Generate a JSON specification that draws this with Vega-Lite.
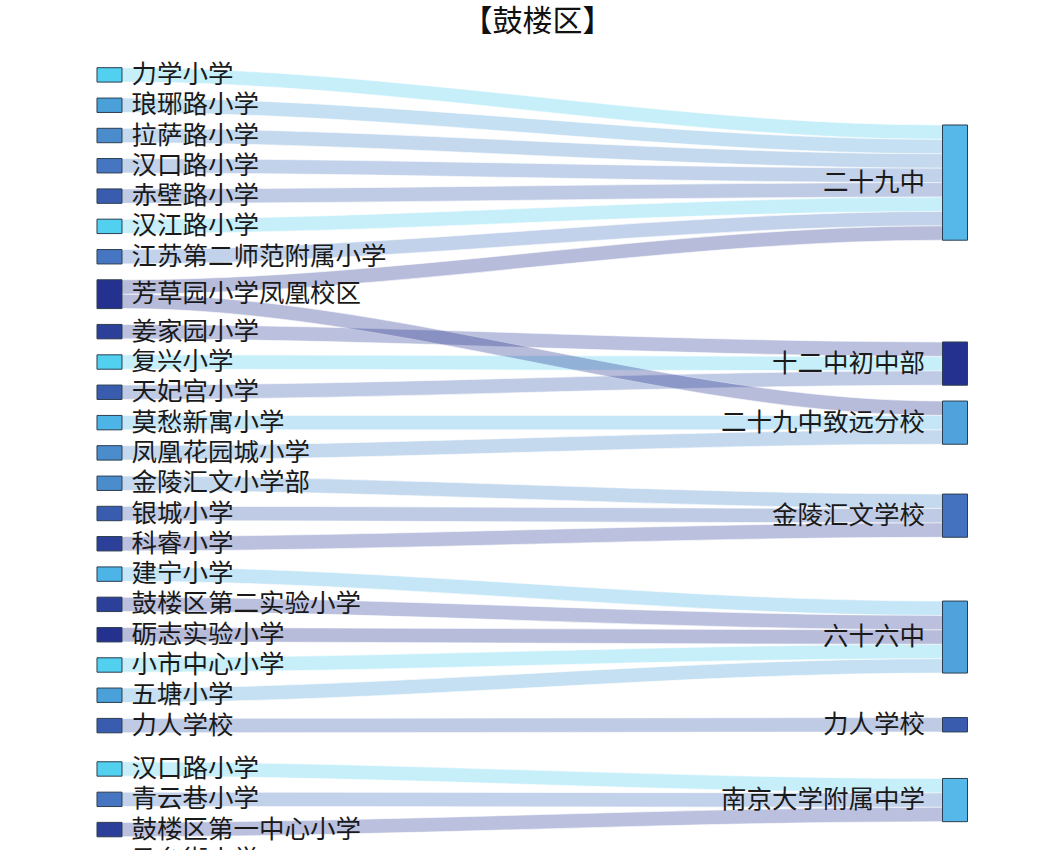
{
  "$schema": "https://vega.github.io/schema/vega-lite/v6.json",
  "width": 1047,
  "height": 810,
  "autosize": {"type": "none"},
  "padding": {"top": 40, "left": 0, "right": 0, "bottom": 0},
  "background": "white",
  "title": {"text": "【鼓楼区】", "font": "Noto Sans CJK SC", "fontSize": 30, "fontWeight": "normal", "color": "#111111", "anchor": "middle", "offset": 3, "dx": 14},
  "config": {"view": {"stroke": null}},
  "datasets": {
    "nodes": [
      {"id": "L1", "name": "力学小学", "col": 0, "y0": 4.70, "y1": 5.70, "yc": 5.20},
      {"id": "L2", "name": "琅琊路小学", "col": 0, "y0": 6.81, "y1": 7.81, "yc": 7.31},
      {"id": "L3", "name": "拉萨路小学", "col": 0, "y0": 8.91, "y1": 9.91, "yc": 9.41},
      {"id": "L4", "name": "汉口路小学", "col": 0, "y0": 11.01, "y1": 12.01, "yc": 11.51},
      {"id": "L5", "name": "赤壁路小学", "col": 0, "y0": 13.12, "y1": 14.12, "yc": 13.62},
      {"id": "L6", "name": "汉江路小学", "col": 0, "y0": 15.22, "y1": 16.22, "yc": 15.72},
      {"id": "L7", "name": "江苏第二师范附属小学", "col": 0, "y0": 17.33, "y1": 18.33, "yc": 17.83},
      {"id": "L8", "name": "芳草园小学凤凰校区", "col": 0, "y0": 19.43, "y1": 21.43, "yc": 20.43},
      {"id": "L9", "name": "姜家园小学", "col": 0, "y0": 22.53, "y1": 23.53, "yc": 23.03},
      {"id": "L10", "name": "复兴小学", "col": 0, "y0": 24.64, "y1": 25.64, "yc": 25.14},
      {"id": "L11", "name": "天妃宫小学", "col": 0, "y0": 26.74, "y1": 27.74, "yc": 27.24},
      {"id": "L12", "name": "莫愁新寓小学", "col": 0, "y0": 28.85, "y1": 29.85, "yc": 29.35},
      {"id": "L13", "name": "凤凰花园城小学", "col": 0, "y0": 30.95, "y1": 31.95, "yc": 31.45},
      {"id": "L14", "name": "金陵汇文小学部", "col": 0, "y0": 33.06, "y1": 34.06, "yc": 33.56},
      {"id": "L15", "name": "银城小学", "col": 0, "y0": 35.16, "y1": 36.16, "yc": 35.66},
      {"id": "L16", "name": "科睿小学", "col": 0, "y0": 37.26, "y1": 38.26, "yc": 37.76},
      {"id": "L17", "name": "建宁小学", "col": 0, "y0": 39.37, "y1": 40.37, "yc": 39.87},
      {"id": "L18", "name": "鼓楼区第二实验小学", "col": 0, "y0": 41.47, "y1": 42.47, "yc": 41.97},
      {"id": "L19", "name": "砺志实验小学", "col": 0, "y0": 43.58, "y1": 44.58, "yc": 44.08},
      {"id": "L20", "name": "小市中心小学", "col": 0, "y0": 45.68, "y1": 46.68, "yc": 46.18},
      {"id": "L21", "name": "五塘小学", "col": 0, "y0": 47.78, "y1": 48.78, "yc": 48.28},
      {"id": "L22", "name": "力人学校", "col": 0, "y0": 49.89, "y1": 50.89, "yc": 50.39},
      {"id": "L23", "name": "汉口路小学", "col": 0, "y0": 52.90, "y1": 53.90, "yc": 53.40},
      {"id": "L24", "name": "青云巷小学", "col": 0, "y0": 55.01, "y1": 56.01, "yc": 55.51},
      {"id": "L25", "name": "鼓楼区第一中心小学", "col": 0, "y0": 57.11, "y1": 58.11, "yc": 57.61},
      {"id": "L26", "name": "马台街小学", "col": 0, "y0": 59.22, "y1": 60.22, "yc": 59.72},
      {"id": "R1", "name": "二十九中", "col": 1, "y0": 8.68, "y1": 16.68, "yc": 12.68},
      {"id": "R2", "name": "十二中初中部", "col": 1, "y0": 23.75, "y1": 26.75, "yc": 25.25},
      {"id": "R3", "name": "二十九中致远分校", "col": 1, "y0": 27.85, "y1": 30.85, "yc": 29.35},
      {"id": "R4", "name": "金陵汇文学校", "col": 1, "y0": 34.31, "y1": 37.31, "yc": 35.81},
      {"id": "R5", "name": "六十六中", "col": 1, "y0": 41.74, "y1": 46.74, "yc": 44.24},
      {"id": "R6", "name": "力人学校", "col": 1, "y0": 49.83, "y1": 50.83, "yc": 50.33},
      {"id": "R7", "name": "南京大学附属中学", "col": 1, "y0": 54.06, "y1": 57.06, "yc": 55.56}
    ],
    "links": [
      {"link": "k1", "source": "L1", "t": 0, "top": 4.70, "bottom": 5.70},
      {"link": "k1", "source": "L1", "t": 0.015, "top": 4.70, "bottom": 5.70},
      {"link": "k1", "source": "L1", "t": 0.985, "top": 8.68, "bottom": 9.68},
      {"link": "k1", "source": "L1", "t": 1, "top": 8.68, "bottom": 9.68},
      {"link": "k2", "source": "L2", "t": 0, "top": 6.81, "bottom": 7.81},
      {"link": "k2", "source": "L2", "t": 0.015, "top": 6.81, "bottom": 7.81},
      {"link": "k2", "source": "L2", "t": 0.985, "top": 9.68, "bottom": 10.68},
      {"link": "k2", "source": "L2", "t": 1, "top": 9.68, "bottom": 10.68},
      {"link": "k3", "source": "L3", "t": 0, "top": 8.91, "bottom": 9.91},
      {"link": "k3", "source": "L3", "t": 0.015, "top": 8.91, "bottom": 9.91},
      {"link": "k3", "source": "L3", "t": 0.985, "top": 10.68, "bottom": 11.68},
      {"link": "k3", "source": "L3", "t": 1, "top": 10.68, "bottom": 11.68},
      {"link": "k4", "source": "L4", "t": 0, "top": 11.01, "bottom": 12.01},
      {"link": "k4", "source": "L4", "t": 0.015, "top": 11.01, "bottom": 12.01},
      {"link": "k4", "source": "L4", "t": 0.985, "top": 11.68, "bottom": 12.68},
      {"link": "k4", "source": "L4", "t": 1, "top": 11.68, "bottom": 12.68},
      {"link": "k5", "source": "L5", "t": 0, "top": 13.12, "bottom": 14.12},
      {"link": "k5", "source": "L5", "t": 0.015, "top": 13.12, "bottom": 14.12},
      {"link": "k5", "source": "L5", "t": 0.985, "top": 12.68, "bottom": 13.68},
      {"link": "k5", "source": "L5", "t": 1, "top": 12.68, "bottom": 13.68},
      {"link": "k6", "source": "L6", "t": 0, "top": 15.22, "bottom": 16.22},
      {"link": "k6", "source": "L6", "t": 0.015, "top": 15.22, "bottom": 16.22},
      {"link": "k6", "source": "L6", "t": 0.985, "top": 13.68, "bottom": 14.68},
      {"link": "k6", "source": "L6", "t": 1, "top": 13.68, "bottom": 14.68},
      {"link": "k7", "source": "L7", "t": 0, "top": 17.33, "bottom": 18.33},
      {"link": "k7", "source": "L7", "t": 0.015, "top": 17.33, "bottom": 18.33},
      {"link": "k7", "source": "L7", "t": 0.985, "top": 14.68, "bottom": 15.68},
      {"link": "k7", "source": "L7", "t": 1, "top": 14.68, "bottom": 15.68},
      {"link": "k8", "source": "L8", "t": 0, "top": 19.43, "bottom": 20.43},
      {"link": "k8", "source": "L8", "t": 0.015, "top": 19.43, "bottom": 20.43},
      {"link": "k8", "source": "L8", "t": 0.985, "top": 15.68, "bottom": 16.68},
      {"link": "k8", "source": "L8", "t": 1, "top": 15.68, "bottom": 16.68},
      {"link": "k9", "source": "L9", "t": 0, "top": 22.53, "bottom": 23.53},
      {"link": "k9", "source": "L9", "t": 0.015, "top": 22.53, "bottom": 23.53},
      {"link": "k9", "source": "L9", "t": 0.985, "top": 23.75, "bottom": 24.75},
      {"link": "k9", "source": "L9", "t": 1, "top": 23.75, "bottom": 24.75},
      {"link": "k10", "source": "L10", "t": 0, "top": 24.64, "bottom": 25.64},
      {"link": "k10", "source": "L10", "t": 0.015, "top": 24.64, "bottom": 25.64},
      {"link": "k10", "source": "L10", "t": 0.985, "top": 24.75, "bottom": 25.75},
      {"link": "k10", "source": "L10", "t": 1, "top": 24.75, "bottom": 25.75},
      {"link": "k11", "source": "L11", "t": 0, "top": 26.74, "bottom": 27.74},
      {"link": "k11", "source": "L11", "t": 0.015, "top": 26.74, "bottom": 27.74},
      {"link": "k11", "source": "L11", "t": 0.985, "top": 25.75, "bottom": 26.75},
      {"link": "k11", "source": "L11", "t": 1, "top": 25.75, "bottom": 26.75},
      {"link": "k12", "source": "L8", "t": 0, "top": 20.43, "bottom": 21.43},
      {"link": "k12", "source": "L8", "t": 0.015, "top": 20.43, "bottom": 21.43},
      {"link": "k12", "source": "L8", "t": 0.985, "top": 27.85, "bottom": 28.85},
      {"link": "k12", "source": "L8", "t": 1, "top": 27.85, "bottom": 28.85},
      {"link": "k13", "source": "L12", "t": 0, "top": 28.85, "bottom": 29.85},
      {"link": "k13", "source": "L12", "t": 0.015, "top": 28.85, "bottom": 29.85},
      {"link": "k13", "source": "L12", "t": 0.985, "top": 28.85, "bottom": 29.85},
      {"link": "k13", "source": "L12", "t": 1, "top": 28.85, "bottom": 29.85},
      {"link": "k14", "source": "L13", "t": 0, "top": 30.95, "bottom": 31.95},
      {"link": "k14", "source": "L13", "t": 0.015, "top": 30.95, "bottom": 31.95},
      {"link": "k14", "source": "L13", "t": 0.985, "top": 29.85, "bottom": 30.85},
      {"link": "k14", "source": "L13", "t": 1, "top": 29.85, "bottom": 30.85},
      {"link": "k15", "source": "L14", "t": 0, "top": 33.06, "bottom": 34.06},
      {"link": "k15", "source": "L14", "t": 0.015, "top": 33.06, "bottom": 34.06},
      {"link": "k15", "source": "L14", "t": 0.985, "top": 34.31, "bottom": 35.31},
      {"link": "k15", "source": "L14", "t": 1, "top": 34.31, "bottom": 35.31},
      {"link": "k16", "source": "L15", "t": 0, "top": 35.16, "bottom": 36.16},
      {"link": "k16", "source": "L15", "t": 0.015, "top": 35.16, "bottom": 36.16},
      {"link": "k16", "source": "L15", "t": 0.985, "top": 35.31, "bottom": 36.31},
      {"link": "k16", "source": "L15", "t": 1, "top": 35.31, "bottom": 36.31},
      {"link": "k17", "source": "L16", "t": 0, "top": 37.26, "bottom": 38.26},
      {"link": "k17", "source": "L16", "t": 0.015, "top": 37.26, "bottom": 38.26},
      {"link": "k17", "source": "L16", "t": 0.985, "top": 36.31, "bottom": 37.31},
      {"link": "k17", "source": "L16", "t": 1, "top": 36.31, "bottom": 37.31},
      {"link": "k18", "source": "L17", "t": 0, "top": 39.37, "bottom": 40.37},
      {"link": "k18", "source": "L17", "t": 0.015, "top": 39.37, "bottom": 40.37},
      {"link": "k18", "source": "L17", "t": 0.985, "top": 41.74, "bottom": 42.74},
      {"link": "k18", "source": "L17", "t": 1, "top": 41.74, "bottom": 42.74},
      {"link": "k19", "source": "L18", "t": 0, "top": 41.47, "bottom": 42.47},
      {"link": "k19", "source": "L18", "t": 0.015, "top": 41.47, "bottom": 42.47},
      {"link": "k19", "source": "L18", "t": 0.985, "top": 42.74, "bottom": 43.74},
      {"link": "k19", "source": "L18", "t": 1, "top": 42.74, "bottom": 43.74},
      {"link": "k20", "source": "L19", "t": 0, "top": 43.58, "bottom": 44.58},
      {"link": "k20", "source": "L19", "t": 0.015, "top": 43.58, "bottom": 44.58},
      {"link": "k20", "source": "L19", "t": 0.985, "top": 43.74, "bottom": 44.74},
      {"link": "k20", "source": "L19", "t": 1, "top": 43.74, "bottom": 44.74},
      {"link": "k21", "source": "L20", "t": 0, "top": 45.68, "bottom": 46.68},
      {"link": "k21", "source": "L20", "t": 0.015, "top": 45.68, "bottom": 46.68},
      {"link": "k21", "source": "L20", "t": 0.985, "top": 44.74, "bottom": 45.74},
      {"link": "k21", "source": "L20", "t": 1, "top": 44.74, "bottom": 45.74},
      {"link": "k22", "source": "L21", "t": 0, "top": 47.78, "bottom": 48.78},
      {"link": "k22", "source": "L21", "t": 0.015, "top": 47.78, "bottom": 48.78},
      {"link": "k22", "source": "L21", "t": 0.985, "top": 45.74, "bottom": 46.74},
      {"link": "k22", "source": "L21", "t": 1, "top": 45.74, "bottom": 46.74},
      {"link": "k23", "source": "L22", "t": 0, "top": 49.89, "bottom": 50.89},
      {"link": "k23", "source": "L22", "t": 0.015, "top": 49.89, "bottom": 50.89},
      {"link": "k23", "source": "L22", "t": 0.985, "top": 49.83, "bottom": 50.83},
      {"link": "k23", "source": "L22", "t": 1, "top": 49.83, "bottom": 50.83},
      {"link": "k24", "source": "L23", "t": 0, "top": 52.90, "bottom": 53.90},
      {"link": "k24", "source": "L23", "t": 0.015, "top": 52.90, "bottom": 53.90},
      {"link": "k24", "source": "L23", "t": 0.985, "top": 54.06, "bottom": 55.06},
      {"link": "k24", "source": "L23", "t": 1, "top": 54.06, "bottom": 55.06},
      {"link": "k25", "source": "L24", "t": 0, "top": 55.01, "bottom": 56.01},
      {"link": "k25", "source": "L24", "t": 0.015, "top": 55.01, "bottom": 56.01},
      {"link": "k25", "source": "L24", "t": 0.985, "top": 55.06, "bottom": 56.06},
      {"link": "k25", "source": "L24", "t": 1, "top": 55.06, "bottom": 56.06},
      {"link": "k26", "source": "L25", "t": 0, "top": 57.11, "bottom": 58.11},
      {"link": "k26", "source": "L25", "t": 0.015, "top": 57.11, "bottom": 58.11},
      {"link": "k26", "source": "L25", "t": 0.985, "top": 56.06, "bottom": 57.06},
      {"link": "k26", "source": "L25", "t": 1, "top": 56.06, "bottom": 57.06}
    ]
  },
  "layer": [
    {
      "data": {"name": "links"},
      "mark": {"type": "area", "interpolate": "monotone", "opacity": 0.32, "stroke": "white", "strokeWidth": 0.6, "clip": false},
      "encoding": {
        "x": {"field": "t", "type": "quantitative", "axis": null, "scale": {"domain": [-0.1295, 1.1088], "nice": false, "zero": false, "padding": 0}},
        "y": {"field": "top", "type": "quantitative", "axis": null, "stack": null, "scale": {"domain": [2.7778, 59.0278], "nice": false, "zero": false, "reverse": true, "padding": 0}},
        "y2": {"field": "bottom"},
        "detail": {"field": "link", "type": "nominal"},
        "color": {"field": "source", "type": "nominal", "legend": null,
          "scale": {
            "domain": ["L1","L2","L3","L4","L5","L6","L7","L8","L9","L10","L11","L12","L13","L14","L15","L16","L17","L18","L19","L20","L21","L22","L23","L24","L25","L26","R1","R2","R3","R4","R5","R6","R7"],
            "range": ["#52d0f0","#4aa0d8","#4a8ccc","#4676c2","#3a5cae","#52d0f0","#4676c2","#24318f","#2c3f99","#52d0f0","#3a5cae","#4cb4e6","#4a8ccc","#4a8ccc","#3a5cae","#2c3f99","#4cb4e6","#2c3f99","#24318f","#52d0f0","#4aa0d8","#3a5cae","#52d0f0","#4676c2","#2c3f99","#4aa0d8","#56b8e8","#24318f","#4fa2dc","#4472bf","#4fa2dc","#3a5cae","#56b8e8"]
          }
        }
      }
    },
    {
      "data": {"name": "nodes"},
      "mark": {"type": "bar", "width": 25, "stroke": "#2d3e50", "strokeWidth": 1, "opacity": 1},
      "encoding": {
        "x": {"field": "col", "type": "quantitative", "axis": null, "scale": {"domain": [-0.1295, 1.1088], "nice": false, "zero": false, "padding": 0}},
        "y": {"field": "y0", "type": "quantitative", "axis": null, "scale": {"domain": [2.7778, 59.0278], "nice": false, "zero": false, "reverse": true, "padding": 0}},
        "y2": {"field": "y1"},
        "color": {"field": "id", "type": "nominal", "legend": null}
      }
    },
    {
      "data": {"name": "nodes"},
      "transform": [{"filter": "datum.col == 0"}],
      "mark": {"type": "text", "align": "left", "baseline": "middle", "dx": 22, "font": "Noto Sans CJK SC", "fontSize": 25.5, "color": "#1a1a1a"},
      "encoding": {
        "x": {"field": "col", "type": "quantitative"},
        "y": {"field": "yc", "type": "quantitative"},
        "text": {"field": "name"}
      }
    },
    {
      "data": {"name": "nodes"},
      "transform": [{"filter": "datum.col == 1"}],
      "mark": {"type": "text", "align": "right", "baseline": "middle", "dx": -30, "font": "Noto Sans CJK SC", "fontSize": 25.5, "color": "#1a1a1a"},
      "encoding": {
        "x": {"field": "col", "type": "quantitative"},
        "y": {"field": "yc", "type": "quantitative"},
        "text": {"field": "name"}
      }
    }
  ]
}
